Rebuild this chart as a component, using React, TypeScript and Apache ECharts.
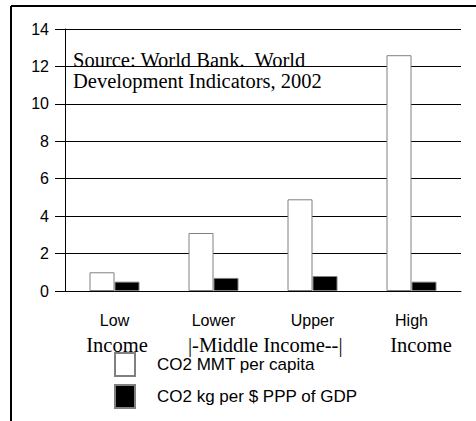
import React, { useEffect, useRef } from "react";
import * as echarts from "echarts";

const categories = ["Low", "Lower", "Upper", "High"];
const co2PerCapita = [1.0, 3.1, 4.9, 12.6];
const co2PerGdp = [0.5, 0.7, 0.8, 0.5];
const seriesNames = ["CO2 MMT per capita", "CO2 kg per $ PPP of GDP"];
const secondRowLabels = ["Income", "|-Middle Income--|", "Income"];
const sourceLines = ["Source: World Bank.  World", "Development Indicators, 2002"];

const SANS = "'Liberation Sans', Arial, sans-serif";
const SERIF = "'Liberation Serif', 'Times New Roman', serif";

export default function App() {
  const ref = useRef<HTMLDivElement>(null);
  useEffect(() => {
    if (!ref.current) return;
    const chart = echarts.init(ref.current, undefined, { renderer: "svg" });
    chart.setOption({
      animation: false,
      backgroundColor: "#fff",
      grid: { left: 65, right: 15, top: 29, bottom: 130 },
      xAxis: {
        type: "category",
        data: categories,
        axisLine: { lineStyle: { color: "#000", width: 1 } },
        axisTick: { alignWithLabel: true, length: 10, lineStyle: { color: "#000" } },
        axisLabel: { color: "#000", fontFamily: SANS, fontSize: 16, margin: 21 },
      },
      yAxis: {
        type: "value",
        min: 0,
        max: 14,
        interval: 2,
        axisLine: { show: true, lineStyle: { color: "#000" } },
        axisTick: { show: true, length: 10, lineStyle: { color: "#000" } },
        axisLabel: { color: "#000", fontFamily: SANS, fontSize: 16, margin: 16 },
        splitLine: { lineStyle: { color: "#000", width: 1 } },
      },
      legend: {
        orient: "vertical",
        left: 114,
        top: 352,
        padding: 0,
        itemWidth: 20,
        itemHeight: 23,
        itemGap: 7,
        icon: "rect",
        data: seriesNames,
        textStyle: { color: "#000", fontFamily: SANS, fontSize: 17, padding: [0, 0, 0, 17] },
      },
      series: [
        {
          name: seriesNames[0],
          type: "bar",
          data: co2PerCapita,
          barWidth: 25,
          barGap: "0%",
          itemStyle: { color: "#fff", borderColor: "#808080", borderWidth: 1 },
        },
        {
          name: seriesNames[1],
          type: "bar",
          data: co2PerGdp,
          barWidth: 25,
          barGap: "0%",
          itemStyle: { color: "#000", borderColor: "#808080", borderWidth: 1 },
        },
      ],
      graphic: [
        { type: "line", shape: { x1: 11, y1: 6, x2: 476, y2: 6 }, style: { stroke: "#000", lineWidth: 2 } },
        { type: "line", shape: { x1: 11, y1: 6, x2: 11, y2: 421 }, style: { stroke: "#000", lineWidth: 2 } },
        {
          type: "text",
          x: 73,
          y: 60,
          style: { text: sourceLines[0], font: `20.5px ${SERIF}`, fill: "#000", align: "left", verticalAlign: "middle" },
        },
        {
          type: "text",
          x: 73,
          y: 81,
          style: { text: sourceLines[1], font: `20.5px ${SERIF}`, fill: "#000", align: "left", verticalAlign: "middle" },
        },
        {
          type: "text",
          x: 117,
          y: 345,
          style: { text: secondRowLabels[0], font: `20.5px ${SERIF}`, fill: "#000", align: "center", verticalAlign: "middle" },
        },
        {
          type: "text",
          x: 188,
          y: 345,
          style: { text: secondRowLabels[1], font: `20.5px ${SERIF}`, fill: "#000", align: "left", verticalAlign: "middle" },
        },
        {
          type: "text",
          x: 421,
          y: 345,
          style: { text: secondRowLabels[2], font: `20.5px ${SERIF}`, fill: "#000", align: "center", verticalAlign: "middle" },
        },
      ],
    });
    return () => chart.dispose();
  }, []);
  return <div ref={ref} style={{ width: 476, height: 421, position: "absolute", left: 0, top: 0 }} />;
}
